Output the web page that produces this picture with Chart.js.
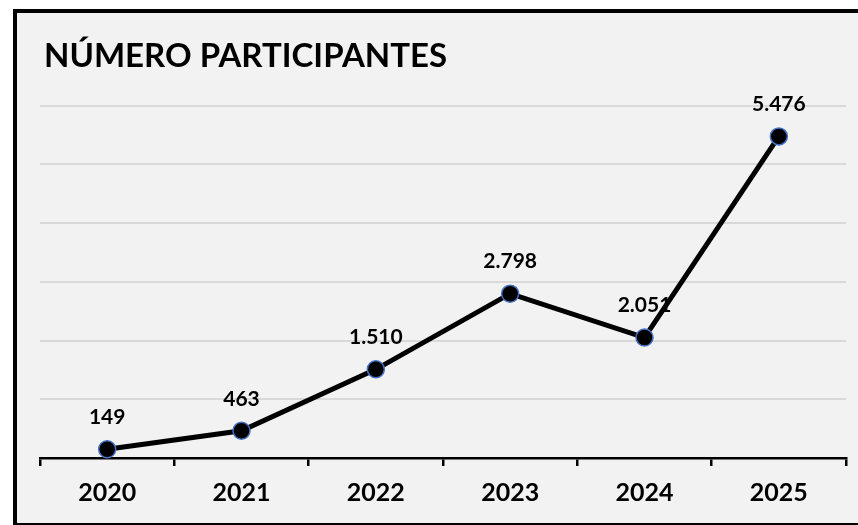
<!DOCTYPE html>
<html><head><meta charset="utf-8">
<script src="https://cdn.jsdelivr.net/npm/chart.js@4"></script>
<style>html,body{margin:0;padding:0;background:#fff;}#c{display:block;}</style>
</head><body>
<canvas id="c" width="858" height="525"></canvas>
<script>
const titleText = 'NÚMERO PARTICIPANTES';
const categories = ['2020','2021','2022','2023','2024','2025'];
const participants = [149, 463, 1510, 2798, 2051, 5476];
const yMin = 0, yMax = 6000, yStep = 1000;

function fmt(v){ return String(v).replace(/\B(?=(\d{3})+(?!\d))/g, '.'); }

const frame = {
  id: 'frame',
  beforeDraw(chart){
    const ctx = chart.ctx;
    ctx.save();
    ctx.fillStyle = '#fff';
    ctx.fillRect(0,0,chart.width,chart.height);
    ctx.fillStyle = '#f2f2f2';
    ctx.fillRect(15,11,chart.width,chart.height);
    ctx.strokeStyle = '#000';
    ctx.lineWidth = 4;
    ctx.strokeRect(15,11,chart.width+10,514);
    ctx.restore();
  },
  afterDraw(chart){
    const ctx = chart.ctx;
    const t = chart.titleBlock;
    ctx.save();
    ctx.font = 'bold 33px Lato';
    ctx.fillStyle = '#000';
    ctx.textAlign = 'left';
    ctx.textBaseline = 'middle';
    ctx.fillText(titleText, 44, (t.top + t.bottom - 29) / 2);
    ctx.restore();
  }
};

const labels = {
  id: 'valueLabels',
  afterDatasetsDraw(chart){
    const ctx = chart.ctx;
    const meta = chart.getDatasetMeta(0);
    ctx.save();
    ctx.font = 'bold 21px Lato';
    ctx.fillStyle = '#000';
    ctx.textAlign = 'center';
    ctx.textBaseline = 'middle';
    meta.data.forEach((pt, i) => {
      ctx.fillText(fmt(chart.data.datasets[0].data[i]), pt.x, pt.y - 32);
    });
    ctx.restore();
  }
};

new Chart(document.getElementById('c'), {
  type: 'line',
  data: {
    labels: categories,
    datasets: [{
      data: participants,
      borderColor: '#000',
      borderWidth: 5,
      pointRadius: 8.5,
      pointBackgroundColor: '#000',
      pointBorderColor: '#4472c4',
      pointBorderWidth: 1.5,
      tension: 0,
      clip: false
    }]
  },
  options: {
    responsive: false,
    animation: false,
    layout: { padding: { left: 40, right: 12, top: 37, bottom: 5 } },
    plugins: {
      legend: { display: false },
      tooltip: { enabled: false },
      title: {
        display: true, text: titleText, align: 'start', color: 'rgba(0,0,0,0)',
        font: { family: 'Lato', size: 33, weight: 'bold' },
        padding: { top: 0, bottom: 29 }
      }
    },
    scales: {
      x: {
        offset: true,
        grid: { offset: true, drawOnChartArea: false, drawTicks: true, tickLength: 8, color: '#000', lineWidth: 2.5 },
        border: { display: true, color: '#000', width: 2.5 },
        ticks: { color: '#000', font: { family: 'Lato', size: 25, weight: 'bold' }, padding: 12 }
      },
      y: {
        min: yMin, max: yMax,
        ticks: { display: false, stepSize: yStep },
        border: { display: false },
        grid: { color: '#d9d9d9', lineWidth: 2, drawTicks: false }
      }
    }
  },
  plugins: [frame, labels]
});
</script>
</body></html>
